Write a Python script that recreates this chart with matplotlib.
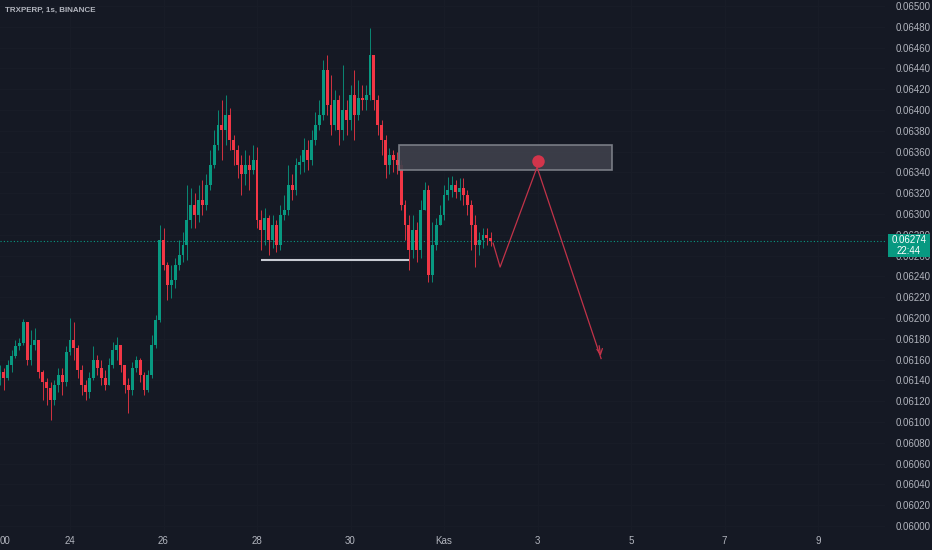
import numpy as np
import matplotlib
matplotlib.use('Agg')
from matplotlib import pyplot as plt
from matplotlib.patches import Rectangle
from matplotlib.transforms import blended_transform_factory

BG = '#151924'
GRID = '#181c27'
TXT = '#b2b5be'
UP = '#089981'
DOWN = '#f23645'

plt.rcParams['font.family'] = ['Liberation Sans', 'DejaVu Sans']

# 2h candles, prices in 1e-5 units (0.06148 -> 6148)
first_open = 6140
close_e5 = [6148, 6142, 6155, 6163, 6173, 6176, 6196, 6160, 6174, 6179,
            6148, 6138, 6133, 6121, 6136, 6145, 6138, 6167, 6179, 6171,
            6150, 6136, 6129, 6142, 6160, 6152, 6142, 6136, 6155, 6169,
            6174, 6155, 6136, 6131, 6152, 6160, 6145, 6131, 6145, 6174,
            6198, 6275, 6251, 6232, 6237, 6251, 6261, 6270, 6294, 6309,
            6299, 6313, 6309, 6328, 6347, 6366, 6386, 6381, 6395, 6371,
            6362, 6347, 6338, 6347, 6342, 6352, 6294, 6285, 6296, 6275,
            6289, 6270, 6299, 6304, 6328, 6323, 6347, 6350, 6362, 6352,
            6371, 6386, 6395, 6438, 6405, 6386, 6410, 6381, 6400, 6390,
            6414, 6395, 6412, 6410, 6414, 6453, 6410, 6386, 6371, 6347,
            6357, 6352, 6347, 6309, 6289, 6265, 6285, 6265, 6304, 6323,
            6241, 6270, 6289, 6299, 6318, 6323, 6328, 6321, 6325, 6318,
            6309, 6289, 6270, 6275, 6280, 6277, 6274]
high_e5 = [6155, 6152, 6160, 6169, 6179, 6181, 6199, 6192, 6188, 6190,
           6179, 6150, 6142, 6138, 6140, 6152, 6152, 6173, 6200, 6196,
           6174, 6155, 6140, 6148, 6173, 6164, 6160, 6150, 6162, 6177,
           6182, 6174, 6155, 6142, 6158, 6163, 6162, 6148, 6150, 6184,
           6203, 6289, 6287, 6254, 6251, 6258, 6275, 6283, 6328, 6325,
           6320, 6328, 6333, 6338, 6362, 6381, 6400, 6410, 6414, 6402,
           6376, 6366, 6357, 6362, 6357, 6366, 6364, 6304, 6306, 6299,
           6299, 6294, 6309, 6318, 6347, 6338, 6354, 6357, 6373, 6371,
           6381, 6398, 6410, 6448, 6453, 6434, 6419, 6414, 6443, 6410,
           6424, 6438, 6429, 6424, 6424, 6479, 6453, 6414, 6390, 6376,
           6363, 6362, 6360, 6352, 6313, 6299, 6299, 6292, 6313, 6331,
           6328, 6292, 6296, 6309, 6328, 6336, 6337, 6333, 6335, 6335,
           6323, 6313, 6299, 6283, 6287, 6287, 6283]
low_e5 = [6136, 6131, 6140, 6148, 6162, 6169, 6174, 6155, 6155, 6169,
          6142, 6121, 6116, 6102, 6116, 6129, 6126, 6135, 6164, 6160,
          6142, 6126, 6121, 6123, 6140, 6145, 6136, 6131, 6136, 6152,
          6160, 6148, 6128, 6109, 6126, 6148, 6138, 6126, 6129, 6142,
          6171, 6196, 6246, 6217, 6219, 6229, 6246, 6254, 6256, 6287,
          6287, 6292, 6299, 6304, 6323, 6344, 6362, 6352, 6366, 6362,
          6347, 6335, 6318, 6328, 6323, 6338, 6287, 6265, 6270, 6261,
          6267, 6263, 6265, 6294, 6299, 6313, 6318, 6338, 6340, 6342,
          6347, 6366, 6381, 6390, 6395, 6376, 6381, 6366, 6371, 6376,
          6381, 6371, 6390, 6400, 6400, 6410, 6400, 6376, 6357, 6335,
          6338, 6340, 6338, 6304, 6275, 6246, 6258, 6254, 6258, 6304,
          6235, 6235, 6265, 6289, 6294, 6313, 6316, 6315, 6313, 6309,
          6299, 6265, 6249, 6261, 6267, 6270, 6269]

start_day = 22.5          # Oct 22, 12:00 (x in days of October, Kas 1 = 32)
step_day = 2 / 24

tick_days = [24, 26, 28, 30, 32, 34, 36, 38, 40]
tick_labels = ['24', '26', '28', '30', 'Kas', '3', '5', '7', '9']
price_ticks = np.arange(6000, 6501, 20) / 1e5

zone_days = [31.04, 35.59]
zone_prices = [0.063423, 0.063664]
level_days = [28.09, 31.25]
level_price = 0.062558
dot_day, dot_price = 34.01, 0.06351
path_days = [33.05, 33.20, 33.99, 35.36]
path_prices = [0.06272, 0.06249, 0.06345, 0.06161]
last_time = '22:44'

closes = np.array(close_e5) / 1e5
highs = np.array(high_e5) / 1e5
lows = np.array(low_e5) / 1e5
opens = np.concatenate([[first_open / 1e5], closes[:-1]])
highs = np.maximum(highs, np.maximum(opens, closes))
lows = np.minimum(lows, np.minimum(opens, closes))
t = start_day + np.arange(len(closes)) * step_day

W, H = 932, 550
fig = plt.figure(figsize=(W / 100, H / 100), dpi=100, facecolor=BG)
ax = fig.add_axes([0, 18 / H, 885 / W, 532 / H])
ax.set_facecolor(BG)

x0 = 24 - 70 / 46.75
x1 = 24 + 815 / 46.75
y_top = 0.065 + 6 * 0.005 / 520
y_bot = 0.060 - 6 * 0.005 / 520
ax.set_xlim(x0, x1)
ax.set_ylim(y_bot, y_top)
px = (y_top - y_bot) / 532

for s in ax.spines.values():
    s.set_visible(False)
ax.set_xticks(tick_days)
ax.set_xticklabels(tick_labels)
ax.set_yticks(price_ticks)
ax.set_yticklabels(['%.5f' % p for p in price_ticks])
ax.yaxis.tick_right()
ax.tick_params(axis='both', length=0, colors=TXT, labelsize=7)
ax.tick_params(axis='y', pad=8)
ax.tick_params(axis='x', pad=3)
ax.grid(True, color=GRID, lw=0.8)
ax.set_axisbelow(True)

# candles
cols = np.where(closes >= opens, UP, DOWN)
body_w = 2.9 / 46.75
ax.vlines(t, lows, highs, colors=cols, lw=0.6, zorder=2)
heights = np.maximum(np.abs(closes - opens), px * 0.8)
ax.bar(t, heights, bottom=np.minimum(opens, closes), width=body_w,
       color=cols, linewidth=0, zorder=3)

# last price line
last = closes[-1]
ax.axhline(last, color=UP, ls=(0, (1, 2)), lw=0.8, zorder=1)

# drawings
ax.add_patch(Rectangle((zone_days[0], zone_prices[0]), zone_days[1] - zone_days[0],
                       zone_prices[1] - zone_prices[0], facecolor='#3e404b',
                       edgecolor='#80838c', lw=1.2, alpha=0.92, zorder=4))
ax.hlines(level_price, level_days[0], level_days[1], color='#c8cbd3', lw=1.5, zorder=4)
ax.plot(path_days, path_prices, color='#c23349', lw=0.9, zorder=5)
ax.annotate('', xy=(path_days[-1], path_prices[-1]),
            xytext=(path_days[-1] - 0.05, path_prices[-1] + 0.00015),
            arrowprops=dict(arrowstyle='->', color='#c23349', lw=0.9), zorder=5)
ax.plot(dot_day, dot_price, 'o', ms=9, color='#d2354b', mec='none', zorder=6)

# title
fig.text(5 / W, 1 - 10 / H, 'TRXPERP, 1s, BINANCE', color=TXT, fontsize=5.8,
         fontweight='bold', ha='left', va='center')
fig.text(0, 1 - 541 / H, '00', color=TXT, fontsize=7, ha='left', va='center')

# last price tag
bt = blended_transform_factory(fig.transFigure, ax.transData)
fig.add_artist(Rectangle((888 / W, last - 16 * px), 42 / W, 23 * px, transform=bt,
                         facecolor=UP, edgecolor='none', zorder=10))
fig.text(909 / W, last + 1 * px, '%.5f' % last, transform=bt, color='white',
         fontsize=7, ha='center', va='center', zorder=11)
fig.text(909 / W, last - 10 * px, last_time, transform=bt, color='white',
         fontsize=7, ha='center', va='center', zorder=11)

fig.savefig('out.png', dpi=100, facecolor=BG)
